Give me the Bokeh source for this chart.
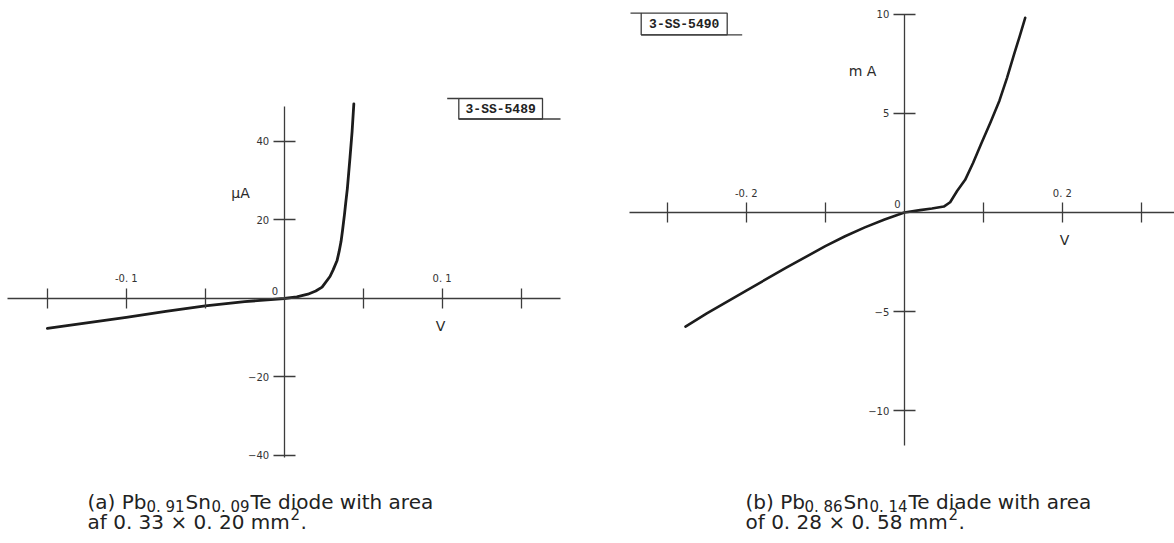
from bokeh.plotting import figure
from bokeh.models import Range1d, LinearAxis, FixedTicker
from bokeh.core.properties import value
from bokeh.embed import file_html
from bokeh.resources import INLINE

# (a) Pb0.91Sn0.09Te diode: bias (V) and current (µA)
volts_a = [-0.15, -0.125, -0.1, -0.075, -0.05, -0.025, 0.0, 0.008, 0.015, 0.02,
           0.024, 0.029, 0.031, 0.0335, 0.0348, 0.036, 0.037, 0.0382, 0.039,
           0.040, 0.0417, 0.043, 0.0441]
microamps_a = [-7.6, -6.2, -4.8, -3.3, -1.9, -0.8, 0.0, 0.4, 1.1, 1.9,
               2.9, 5.6, 7.3, 9.7, 12.0, 14.5, 17.5, 21.5, 24.5,
               28.0, 36.0, 42.5, 49.6]

# (b) Pb0.86Sn0.14Te diode: bias (V) and current (mA)
volts_b = [-0.277, -0.25, -0.2, -0.15, -0.1, -0.075, -0.05, -0.025, 0.0, 0.02,
           0.035, 0.05, 0.058, 0.067, 0.077, 0.087, 0.0973, 0.109, 0.1205,
           0.13, 0.139, 0.146, 0.153]
milliamps_b = [-5.76, -5.1, -3.94, -2.8, -1.7, -1.2, -0.75, -0.35, 0.0, 0.12,
               0.2, 0.3, 0.52, 1.1, 1.65, 2.5, 3.47, 4.55, 5.66,
               6.8, 8.0, 8.9, 9.83]

ticks_va = [-0.15, -0.1, -0.05, 0.05, 0.1, 0.15]
labels_va = {-0.1: "-0. 1", 0.1: "0. 1"}
ticks_ia = [-40, -20, 20, 40]

ticks_vb = [-0.3, -0.2, -0.1, 0.1, 0.2, 0.3]
labels_vb = {-0.2: "-0. 2", 0.2: "0. 2"}
ticks_ib = [-10, -5, 5, 10]

INK = "#1c1c1c"
AXIS = "#3c3c3c"
TICK_FONT = "DejaVu Sans"
CAP_FONT = "DejaVu Sans"

W, H = 1174, 543
p = figure(width=W, height=H, x_range=Range1d(0, W), y_range=Range1d(H, 0),
           output_backend="svg", toolbar_location=None,
           x_axis_location=None, y_axis_location=None,
           min_border=0, outline_line_color=None,
           background_fill_color="white", border_fill_color="white")
p.title.visible = False
p.grid.visible = False

# each panel gets its own pair of data ranges spanning the whole canvas
p.extra_x_ranges = {"va": Range1d(-0.17967, 0.56384), "vb": Range1d(-1.1441, 0.3420)}
p.extra_y_ranges = {"ia": Range1d(-62.42, 75.92), "ib": Range1d(-16.717, 10.707)}


def style_axis(ax, tick_in, tick_out, standoff):
    ax.axis_line_color = AXIS
    ax.axis_line_width = 1.3
    ax.major_tick_line_color = AXIS
    ax.major_tick_line_width = 1.3
    ax.major_tick_in = tick_in
    ax.major_tick_out = tick_out
    ax.minor_tick_line_color = None
    ax.major_label_standoff = standoff
    ax.major_label_text_font = TICK_FONT
    ax.major_label_text_font_size = "10px"
    ax.major_label_text_color = "#333333"


def add_panel(xname, yname, xticks, xlabels, yticks, xbounds, ybounds):
    xax = LinearAxis(x_range_name=xname, y_range_name=yname, fixed_location=0,
                     bounds=xbounds, ticker=FixedTicker(ticks=xticks),
                     major_label_overrides={t: xlabels.get(t, "") for t in xticks})
    style_axis(xax, 10, 10, 4)
    p.add_layout(xax, "above")
    yax = LinearAxis(x_range_name=xname, y_range_name=yname, fixed_location=0,
                     bounds=ybounds, ticker=FixedTicker(ticks=yticks))
    style_axis(yax, 11, 11, 4)
    p.add_layout(yax, "left")


add_panel("va", "ia", ticks_va, labels_va, ticks_ia, (-0.175, 0.175), (-40.5, 48.9))
add_panel("vb", "ib", ticks_vb, labels_vb, ticks_ib, (-0.3475, 0.35), (-11.77, 10.0))

p.line(volts_a, microamps_a, x_range_name="va", y_range_name="ia",
       line_color=INK, line_width=2.8, line_join="round", line_cap="round")
p.line(volts_b, milliamps_b, x_range_name="vb", y_range_name="ib",
       line_color=INK, line_width=2.6, line_join="round", line_cap="round")


def label(x, y, txt, size, align="center", baseline="middle", font=TICK_FONT,
          color="#333333", style="normal"):
    p.text(x=[x], y=[y], text=[txt], text_font=value(font), text_font_size=size,
           text_align=align, text_baseline=baseline, text_color=color,
           text_font_style=style)


# origin and unit labels
label(274.5, 290, "0", "10px")
label(897, 203, "0", "10px")
label(240, 192, "µA", "14px", color="#2a2a2a")
label(440, 325, "V", "14px", color="#2a2a2a")
label(862, 70, "m A", "14px", color="#2a2a2a")
label(1064, 239, "V", "14px", color="#2a2a2a")

# drawing-number stamps
for (x0, x1, y0, y1, lead, tail, num) in [
        (458.3, 542.0, 98.0, 118.5, 446.7, 560.0, "3-SS-5489"),
        (640.7, 726.7, 12.7, 34.3, 630.0, 741.7, "3-SS-5490")]:
    p.quad(left=[x0], right=[x1], top=[y0], bottom=[y1], fill_color=None,
           line_color=AXIS, line_width=1.3)
    p.segment(x0=[lead, x0], y0=[y0, y1], x1=[x0, tail], y1=[y0, y1],
              line_color=AXIS, line_width=1.3)
    label((x0 + x1) / 2, (y0 + y1) / 2 + 0.5, num, "13px", font="Liberation Mono",
          color="#222222", style="bold")

# captions with sub- and superscripts
CAP = "20px"
SUB = "15px"
base1, base2 = 501, 521
for (x0, head, s1, mid, s2, tail, line2) in [
        (87, "(a) Pb", "0. 91", "Sn", "0. 09", "Te diode with area",
         "af 0. 33 × 0. 20 mm"),
        (745, "(b) Pb", "0. 86", "Sn", "0. 14", "Te diade with area",
         "of 0. 28 × 0. 58 mm")]:
    label(x0, base1, head, CAP, "left", "alphabetic", CAP_FONT, "#222222")
    label(x0 + 59, base1 + 5, s1, SUB, "left", "alphabetic", CAP_FONT, "#222222")
    label(x0 + 98, base1, mid, CAP, "left", "alphabetic", CAP_FONT, "#222222")
    label(x0 + 124, base1 + 5, s2, SUB, "left", "alphabetic", CAP_FONT, "#222222")
    label(x0 + 163, base1, tail, CAP, "left", "alphabetic", CAP_FONT, "#222222")
    label(x0, base2, line2, CAP, "left", "alphabetic", CAP_FONT, "#222222")
    label(x0 + 203, base2 - 8, "2", SUB, "left", "alphabetic", CAP_FONT, "#222222")
    label(x0 + 213, base2, ".", CAP, "left", "alphabetic", CAP_FONT, "#222222")

open("out.html", "w").write(file_html(p, INLINE))
